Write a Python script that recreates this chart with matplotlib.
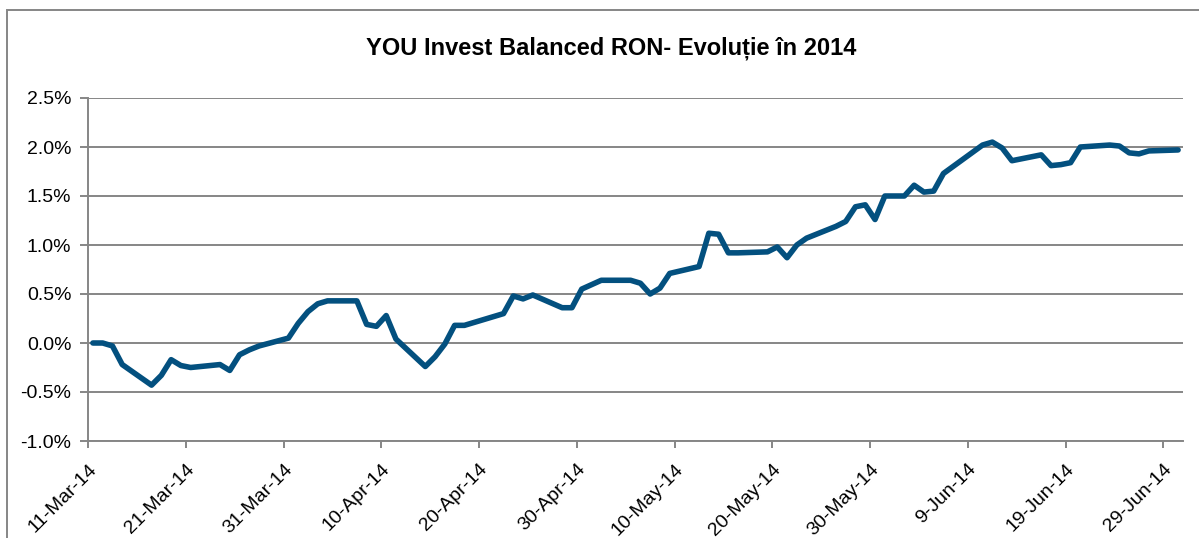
import datetime as dt

import matplotlib
matplotlib.use("Agg")
import matplotlib.pyplot as plt
from matplotlib.patches import Rectangle
from matplotlib.ticker import FuncFormatter

plt.rcParams["font.family"] = ["Liberation Sans", "DejaVu Sans"]

TITLE = "YOU Invest Balanced RON- Evoluție în 2014"

# trading days (2014) and cumulative return in %
dates = [
    "2014-03-11", "2014-03-12", "2014-03-13", "2014-03-14", "2014-03-17",
    "2014-03-18", "2014-03-19", "2014-03-20", "2014-03-21", "2014-03-24",
    "2014-03-25", "2014-03-26", "2014-03-27", "2014-03-28", "2014-03-31",
    "2014-04-01", "2014-04-02", "2014-04-03", "2014-04-04", "2014-04-07",
    "2014-04-08", "2014-04-09", "2014-04-10", "2014-04-11", "2014-04-14",
    "2014-04-15", "2014-04-16", "2014-04-17", "2014-04-18", "2014-04-22",
    "2014-04-23", "2014-04-24", "2014-04-25", "2014-04-28", "2014-04-29",
    "2014-04-30", "2014-05-02", "2014-05-05", "2014-05-06", "2014-05-07",
    "2014-05-08", "2014-05-09", "2014-05-12", "2014-05-13", "2014-05-14",
    "2014-05-15", "2014-05-16", "2014-05-19", "2014-05-20", "2014-05-21",
    "2014-05-22", "2014-05-23", "2014-05-26", "2014-05-27", "2014-05-28",
    "2014-05-29", "2014-05-30", "2014-05-31", "2014-06-02", "2014-06-03",
    "2014-06-04", "2014-06-05", "2014-06-06", "2014-06-10", "2014-06-11",
    "2014-06-12", "2014-06-13", "2014-06-16", "2014-06-17", "2014-06-18",
    "2014-06-19", "2014-06-20", "2014-06-23", "2014-06-24", "2014-06-25",
    "2014-06-26", "2014-06-27", "2014-06-30",
]
returns_pct = [
    0.00, 0.00, -0.03, -0.22, -0.43,
    -0.33, -0.17, -0.23, -0.25, -0.22,
    -0.28, -0.12, -0.07, -0.03, 0.05,
    0.20, 0.32, 0.40, 0.43, 0.43,
    0.19, 0.17, 0.28, 0.04, -0.24,
    -0.14, -0.01, 0.18, 0.18, 0.30,
    0.48, 0.45, 0.49, 0.36, 0.36,
    0.55, 0.64, 0.64, 0.61, 0.50,
    0.56, 0.71, 0.78, 1.12, 1.11,
    0.92, 0.92, 0.93, 0.98, 0.87,
    1.00, 1.07, 1.19, 1.24, 1.39,
    1.41, 1.26, 1.50, 1.50, 1.61,
    1.54, 1.55, 1.73, 2.02, 2.05,
    1.99, 1.86, 1.92, 1.81, 1.82,
    1.84, 2.00, 2.02, 2.01, 1.94,
    1.93, 1.96, 1.97,
]

y_ticks = [-1.0, -0.5, 0.0, 0.5, 1.0, 1.5, 2.0, 2.5]
tick_dates = ["2014-03-11", "2014-03-21", "2014-03-31", "2014-04-10",
              "2014-04-20", "2014-04-30", "2014-05-10", "2014-05-20",
              "2014-05-30", "2014-06-09", "2014-06-19", "2014-06-29"]

LINE = "#03507F"
GRID = "#868686"

# each value sits in the middle of its day slot
x = [dt.datetime.fromisoformat(d) + dt.timedelta(hours=12) for d in dates]
xt = [dt.datetime.fromisoformat(d) for d in tick_dates]

fig = plt.figure(figsize=(11.99, 5.38), dpi=100)
ax = fig.add_axes([88 / 1199, 1 - 441 / 538, (1183 - 88) / 1199, (441 - 98) / 538])

ax.plot(x, returns_pct, color=LINE, lw=4.0, solid_capstyle="round",
        solid_joinstyle="round", zorder=3)

ax.set_xlim(xt[0], xt[0] + dt.timedelta(days=112))
ax.set_ylim(-1.0, 2.5)
ax.set_yticks(y_ticks)
ax.yaxis.set_major_formatter(FuncFormatter(lambda v, _: f"{v:.1f}%"))
ax.set_xticks(xt)
ax.set_xticklabels([f"{d.day}-{d.strftime('%b-%y')}" for d in xt],
                   rotation=45, ha="right", rotation_mode="anchor")

ax.grid(axis="y", color=GRID, lw=1.4)
ax.set_axisbelow(True)
for side in ("top", "right"):
    ax.spines[side].set_visible(False)
for side in ("left", "bottom"):
    ax.spines[side].set_color(GRID)
    ax.spines[side].set_linewidth(1.4)
ax.tick_params(axis="y", length=6, width=1.4, color=GRID, labelsize=14, pad=6)
ax.tick_params(axis="x", length=5, width=1.4, color=GRID, labelsize=14, pad=9)

fig.text(611 / 1199, 1 - 48 / 538, TITLE, ha="center", va="center",
         fontsize=17, fontweight="bold")

# outer chart border (cut off at right and bottom)
fig.patches.append(Rectangle((7 / 1199, -0.1), 1.2, 1.1 - 10.5 / 538,
                             transform=fig.transFigure, fill=False,
                             edgecolor=GRID, lw=1.4))

fig.savefig("out.png", dpi=100)
